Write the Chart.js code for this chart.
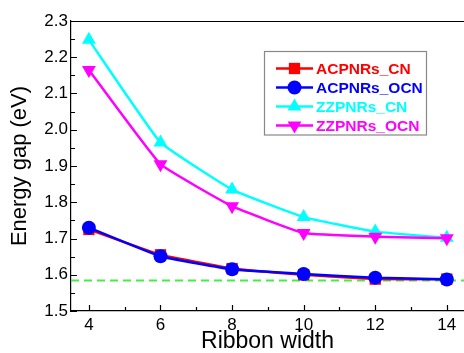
<!DOCTYPE html>
<html>
<head>
<meta charset="utf-8">
<script src="https://cdn.jsdelivr.net/npm/chart.js@4/dist/chart.umd.min.js"></script>
<style>
html,body{margin:0;padding:0;background:#fff;}
#wrap{width:464px;height:353px;position:relative;}
</style>
</head>
<body>
<div id="wrap"><canvas id="c" width="464" height="353"></canvas></div>
<script>
const ribbonWidth = [4, 6, 8, 10, 12, 14];
const acpnrsCN  = [1.725, 1.655, 1.617, 1.600, 1.588, 1.588];
const acpnrsOCN = [1.730, 1.651, 1.615, 1.602, 1.592, 1.587];
const zzpnrsCN  = [2.248, 1.965, 1.835, 1.759, 1.719, 1.702];
const zzpnrsOCN = [2.165, 1.905, 1.789, 1.715, 1.705, 1.701];
const refGap = 1.584;
const xTicks = [4, 6, 8, 10, 12, 14];
const yTicks = [1.5, 1.6, 1.7, 1.8, 1.9, 2.0, 2.1, 2.2, 2.3];
const seriesNames = ['ACPNRs_CN', 'ACPNRs_OCN', 'ZZPNRs_CN', 'ZZPNRs_OCN'];

const FONT = "'Liberation Sans', Arial, sans-serif";
const xy = arr => ribbonWidth.map((x, i) => ({x: x, y: arr[i]}));

const styles = [
  {color: '#ff0000', pointStyle: 'rect', r: 8, rot: 0},
  {color: '#0000ff', pointStyle: 'circle', r: 7, rot: 0},
  {color: '#00ffff', pointStyle: 'triangle', r: 8, rot: 0},
  {color: '#ff00ff', pointStyle: 'triangle', r: 8, rot: 180}
];
const seriesData = [acpnrsCN, acpnrsOCN, zzpnrsCN, zzpnrsOCN];

const datasets = seriesData.map((d, i) => ({
  label: seriesNames[i],
  data: xy(d),
  borderColor: styles[i].color,
  backgroundColor: styles[i].color,
  borderWidth: 2.5,
  pointStyle: styles[i].pointStyle,
  pointRadius: styles[i].r,
  pointRotation: styles[i].rot,
  pointBorderWidth: 0,
  tension: 0.1,
  order: 4 - i
}));
datasets.push({
  label: 'ref',
  data: [{x: 3.5, y: refGap}, {x: 14.48, y: refGap}],
  borderColor: '#44ee44',
  borderWidth: 2,
  borderDash: [8, 5],
  pointRadius: 0,
  order: 10
});

const decor = {
  id: 'decor',
  afterDatasetsDraw(chart) {
    const ctx = chart.ctx, a = chart.chartArea;
    const xs = chart.scales.x, ys = chart.scales.y;
    ctx.save();
    ctx.strokeStyle = '#000';
    ctx.lineWidth = 1.2;
    ctx.beginPath();
    ctx.moveTo(a.left, a.top + 0.5);
    ctx.lineTo(a.right, a.top + 0.5);
    ctx.stroke();
    ctx.beginPath();
    for (let v = 4; v <= 14; v++) {
      const px = Math.round(xs.getPixelForValue(v)) + 0.5;
      const len = (v % 2 === 0) ? 6 : 4;
      ctx.moveTo(px, a.bottom);
      ctx.lineTo(px, a.bottom - len);
    }
    for (let k = 0; k <= 16; k++) {
      const v = 1.5 + k * 0.05;
      const py = Math.round(ys.getPixelForValue(v)) + 0.5;
      const len = (k % 2 === 0) ? 6 : 4;
      ctx.moveTo(a.left, py);
      ctx.lineTo(a.left + len, py);
    }
    ctx.stroke();
    const L = 264.5, T = 51.5, W = 162, H = 83.5;
    ctx.fillStyle = '#fff';
    ctx.fillRect(L, T, W, H);
    ctx.strokeStyle = '#888';
    ctx.lineWidth = 1.2;
    ctx.strokeRect(L, T, W, H);
    const rows = [68.5, 87.5, 106.5, 125.5];
    ctx.font = 'bold 15.5px ' + FONT;
    ctx.textBaseline = 'middle';
    ctx.textAlign = 'left';
    rows.forEach((ry, i) => {
      const st = styles[i];
      ctx.strokeStyle = st.color;
      ctx.fillStyle = st.color;
      ctx.lineWidth = 2.5;
      ctx.beginPath();
      ctx.moveTo(276, ry);
      ctx.lineTo(313, ry);
      ctx.stroke();
      Chart.helpers.drawPoint(ctx, {pointStyle: st.pointStyle, radius: st.r, rotation: st.rot, borderWidth: 0}, 294.5, ry);
      ctx.fillStyle = st.color;
      ctx.fillText(seriesNames[i], 316, ry + 1);
    });
    ctx.restore();
  }
};

new Chart(document.getElementById('c'), {
  type: 'line',
  data: {datasets: datasets},
  plugins: [decor],
  options: {
    responsive: false,
    animation: false,
    clip: false,
    layout: {autoPadding: false, padding: {top: 21, right: 0, left: 0, bottom: 0}},
    plugins: {legend: {display: false}, tooltip: {enabled: false}},
    scales: {
      x: {
        type: 'linear',
        min: 3.5, max: 14.48,
        afterBuildTicks: s => { s.ticks = xTicks.map(v => ({value: v})); },
        afterFit: s => { s.height = 42; s.paddingLeft = 0; s.paddingRight = 0; },
        grid: {display: true, drawOnChartArea: false, drawTicks: false},
        border: {display: true, color: '#000', width: 1.2},
        ticks: {color: '#000', font: {family: FONT, size: 17}, padding: 4, maxRotation: 0,
                callback: v => String(v)},
        title: {display: true, text: 'Ribbon width', color: '#000',
                font: {family: FONT, size: 23, lineHeight: 1}, padding: {top: 0, bottom: 0}}
      },
      y: {
        type: 'linear',
        min: 1.5, max: 2.3,
        afterBuildTicks: s => { s.ticks = yTicks.map(v => ({value: v})); },
        afterFit: s => { s.width = 71; s.paddingTop = 0; s.paddingBottom = 0; },
        grid: {display: true, drawOnChartArea: false, drawTicks: false},
        border: {display: true, color: '#000', width: 1.2},
        ticks: {color: '#000', font: {family: FONT, size: 17}, padding: 3,
                callback: v => Number(v).toFixed(1)},
        title: {display: true, text: 'Energy gap (eV)', color: '#000',
                font: {family: FONT, size: 22}, padding: {top: 7, bottom: 0}}
      }
    }
  }
});
</script>
</body>
</html>
